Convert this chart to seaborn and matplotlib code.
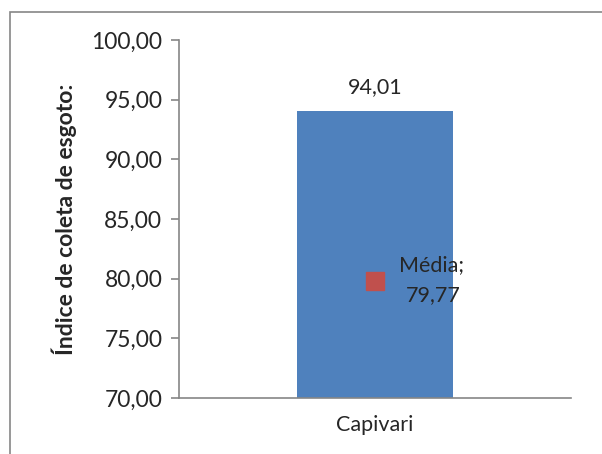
import matplotlib
matplotlib.use("Agg")
import matplotlib.pyplot as plt
import seaborn as sns
import pandas as pd
from matplotlib.patches import Rectangle

categories = ["Capivari"]
values = [94.01]
mean_label = "Média"
mean_value = 79.77
y_ticks = [70, 75, 80, 85, 90, 95, 100]

sns.set_theme(style="white")
plt.rcParams['font.family'] = ['Lato', 'DejaVu Sans']

fig = plt.figure(figsize=(6.02, 4.54), dpi=100)
ax = fig.add_axes([179/602, 1 - 398/454, (571-179)/602, (398-40)/454])

df = pd.DataFrame({"cat": categories, "val": values})
sns.barplot(data=df, x="cat", y="val", ax=ax, color="#4F81BD", width=0.4,
            saturation=1, edgecolor="none")
ax.set_xlim(-0.5, 0.5)
ax.set_ylim(70, 100)
ax.set_yticks(y_ticks)
ax.set_yticklabels([f"{v:.2f}".replace(".", ",") for v in y_ticks], fontsize=16.5)
ax.set_xticks([0])
ax.set_xticklabels(categories, fontsize=15.5)
ax.tick_params(axis="x", length=0, pad=12)
ax.set_xticks([-0.5, 0.5], minor=True)
ax.tick_params(axis="x", which="minor", length=6, color="#868686", width=1.2, direction="out")
ax.tick_params(axis="y", length=6, color="#868686", width=1.2, direction="out", left=True, pad=6)
ax.set_xlabel("")
ax.set_ylabel("Índice de coleta de esgoto:", fontsize=16.5, fontweight="bold", labelpad=10)
for s in ["top", "right"]:
    ax.spines[s].set_visible(False)
for s in ["left", "bottom"]:
    ax.spines[s].set_color("#868686")
    ax.spines[s].set_linewidth(1.2)

for i, v in enumerate(values):
    ax.text(i, v + 1.2, f"{v:.2f}".replace(".", ","), ha="center", va="bottom", fontsize=15.5)

ax.plot([0], [mean_value], marker="s", markersize=13, color="#C0504D", linestyle="none")
ax.text(0.062, mean_value + 0.5, f"{mean_label};", ha="left", va="bottom", fontsize=15.5)
ax.text(0.078, mean_value - 0.3, f"{mean_value:.2f}".replace(".", ","), ha="left", va="top", fontsize=15.5)

fig.patches.append(Rectangle((10/602, -0.1), 1.2, 1 - 12/454 + 0.1, transform=fig.transFigure,
                             fill=False, edgecolor="#868686", linewidth=1.2))

fig.savefig("out.png", dpi=100)
